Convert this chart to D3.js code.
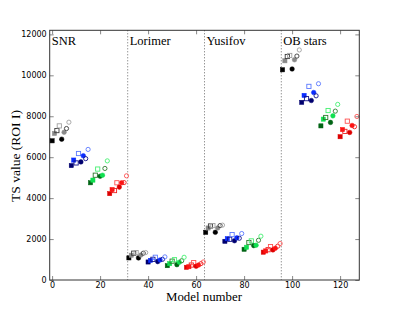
<!DOCTYPE html>
<html>
<head>
<meta charset="utf-8">
<script src="https://cdn.jsdelivr.net/npm/d3@7"></script>
<style>
  body { margin: 0; background: #fff; }
  svg text { fill: #000; }
  .serif { font-family: "Liberation Serif", "Times New Roman", Times, serif; }
</style>
</head>
<body>
<svg id="chart" width="399" height="312"></svg>
<script>
// panel labels and their start model
const panels = ["SNR", "Lorimer", "Yusifov", "OB stars"];
const panelStart = [0, 32, 64, 96];
const separators = [31.5, 63.5, 95.5];

// TS values per model (8 per colour group, 4 groups per panel)
const snrTS = [6800, 7160, 7300, 7530, 6880, 7220, 7400, 7710,
               5590, 5860, 5720, 6180, 5770, 6070, 5930, 6380,
               4750, 4880, 5120, 5420, 5070, 5120, 5450, 5820,
               4220, 4420, 4370, 4750, 4540, 4750, 4760, 5090];
const lorimerTS = [1080, 1210, 1310, 1340, 1080, 1220, 1310, 1340,
                   880, 960, 1010, 1110, 900, 980, 1010, 1130,
                   700, 800, 920, 990, 750, 870, 940, 1110,
                   620, 650, 730, 850, 670, 730, 800, 880];
const yusifovTS = [2330, 2540, 2640, 2660, 2330, 2540, 2660, 2680,
                   1890, 2020, 1990, 2220, 1920, 2060, 2040, 2270,
                   1500, 1600, 1830, 1910, 1680, 1700, 1940, 2140,
                   1360, 1420, 1480, 1630, 1470, 1550, 1650, 1780];
const obTS = [10270, 10710, 10920, 10970, 10310, 10760, 10940, 11240,
              8680, 9020, 8860, 9460, 8770, 9160, 9000, 9590,
              7530, 7860, 7940, 8280, 7700, 8020, 8250, 8580,
              7000, 7350, 7260, 7760, 7210, 7550, 7490, 7990];

// colour groups: dark/light for filled markers, dark/light for open ones
const groupColors = [
  ["#000000", "#8a8a8a", "#3c3c3c", "#a0a0a0"],
  ["#00006e", "#0a2cff", "#11118a", "#5a78ff"],
  ["#006414", "#10e050", "#2c7a2c", "#44f070"],
  ["#dd0000", "#ff1010", "#ee2020", "#ff5050"]
];
// marker pattern within a group of 8
const markerShape = ["square", "square", "square", "square", "circle", "circle", "circle", "circle"];
const markerFilled = [true, true, false, false, true, true, false, false];
const markerShade = [0, 1, 2, 3, 0, 1, 2, 3];

const xTicks = [0, 20, 40, 60, 80, 100, 120];
const yTicks = [0, 2000, 4000, 6000, 8000, 10000, 12000];

const allTS = [snrTS, lorimerTS, yusifovTS, obTS];
const points = [];
allTS.forEach((arr, p) => arr.forEach((v, i) => {
  const k = i % 8;
  points.push({
    model: panelStart[p] + i,
    ts: v,
    shape: markerShape[k],
    filled: markerFilled[k],
    color: groupColors[Math.floor(i / 8)][markerShade[k]]
  });
}));

const margin = {top: 30.3, right: 39.7, bottom: 32, left: 49.7};
const W = 399, H = 312;
const w = W - margin.left - margin.right, h = H - margin.top - margin.bottom;

const svg = d3.select("#chart");
const g = svg.append("g").attr("transform", `translate(${margin.left},${margin.top})`);

const x = d3.scaleLinear().domain([-1, 128]).range([0, w]);
const y = d3.scaleLinear().domain([0, 12200]).range([h, 0]);

// separators
g.selectAll("line.sep").data(separators).join("line")
  .attr("class", "sep")
  .attr("x1", d => x(d)).attr("x2", d => x(d))
  .attr("y1", 0).attr("y2", h)
  .attr("stroke", "#444").attr("stroke-width", 0.8)
  .attr("stroke-dasharray", "1,2");

// panel labels
g.selectAll("text.panel").data(panels).join("text")
  .attr("class", "panel serif")
  .attr("x", (d, i) => i === 0 ? 2 : x(separators[i - 1]) + 2)
  .attr("y", 15)
  .style("font-size", "12.5px")
  .text(d => d);

// markers
const squares = points.filter(d => d.shape === "square");
const circles = points.filter(d => d.shape === "circle");
g.selectAll("rect.pt").data(squares).join("rect")
  .attr("class", "pt")
  .attr("x", d => x(d.model) - 2.1).attr("y", d => y(d.ts) - 2.1)
  .attr("width", 4.2).attr("height", 4.2)
  .attr("fill", d => d.filled ? d.color : "none")
  .attr("stroke", d => d.color).attr("stroke-width", d => d.filled ? 0.5 : 0.9);
g.selectAll("circle.pt").data(circles).join("circle")
  .attr("class", "pt")
  .attr("cx", d => x(d.model)).attr("cy", d => y(d.ts))
  .attr("r", d => d.filled ? 2.3 : 2.1)
  .attr("fill", d => d.filled ? d.color : "none")
  .attr("stroke", d => d.color).attr("stroke-width", d => d.filled ? 0.5 : 0.9);

// axes
const tickFont = "'DejaVu Sans', sans-serif";
g.append("g").attr("transform", `translate(0,${h})`)
  .call(d3.axisBottom(x).tickValues(xTicks).tickSize(-4).tickPadding(2))
  .call(a => a.select(".domain").remove());
g.append("g")
  .call(d3.axisTop(x).tickValues(xTicks).tickSize(-4).tickFormat(""))
  .call(a => a.select(".domain").remove());
g.append("g")
  .call(d3.axisLeft(y).tickValues(yTicks).tickSize(-4).tickPadding(3).tickFormat(d3.format("d")))
  .call(a => a.select(".domain").remove());
g.append("g").attr("transform", `translate(${w},0)`)
  .call(d3.axisRight(y).tickValues(yTicks).tickSize(-4).tickFormat(""))
  .call(a => a.select(".domain").remove());
g.selectAll(".tick line").attr("stroke", "#555").attr("stroke-width", 0.7);
g.selectAll(".tick text").style("font-family", tickFont).style("font-size", "8px").attr("fill", "#000");

g.append("rect").attr("width", w).attr("height", h)
  .attr("fill", "none").attr("stroke", "#333").attr("stroke-width", 1);

// axis titles
svg.append("text")
  .attr("class", "serif")
  .attr("x", 204).attr("y", 301)
  .attr("text-anchor", "middle")
  .attr("textLength", 76).attr("lengthAdjust", "spacingAndGlyphs")
  .style("font-size", "12px")
  .text("Model number");
svg.append("text")
  .attr("class", "serif")
  .attr("transform", `translate(20,156) rotate(-90)`)
  .attr("text-anchor", "middle")
  .attr("textLength", 92).attr("lengthAdjust", "spacingAndGlyphs")
  .style("font-size", "12px")
  .text("TS value (ROI I)");
</script>
</body>
</html>
